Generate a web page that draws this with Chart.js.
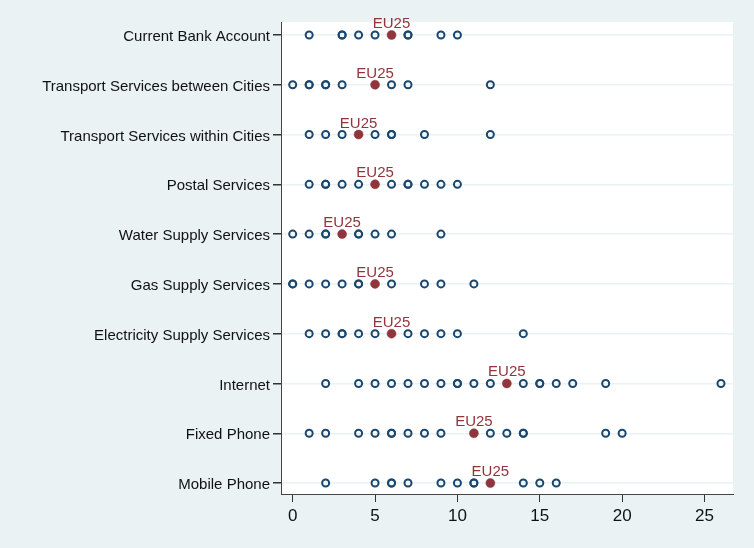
<!DOCTYPE html>
<html>
<head>
<meta charset="utf-8">
<script src="https://cdn.jsdelivr.net/npm/chart.js@4.4.0/dist/chart.umd.min.js"></script>
<style>
  body { margin: 0; background: #eaf2f3; }
  canvas { display: block; }
</style>
</head>
<body>
<canvas id="dotChart" width="754" height="548"></canvas>
<script>
// categories from top to bottom
const categories = [
    'Current Bank Account',
    'Transport Services between Cities',
    'Transport Services within Cities',
    'Postal Services',
    'Water Supply Services',
    'Gas Supply Services',
    'Electricity Supply Services',
    'Internet',
    'Fixed Phone',
    'Mobile Phone'
];

// country values per category (repeated values = overlapping countries)
const bankAccount = [1, 3, 3, 4, 5, 7, 7, 9, 10];
const transportBetween = [0, 1, 1, 2, 2, 3, 6, 7, 12];
const transportWithin = [1, 2, 3, 5, 6, 6, 8, 12];
const postal = [1, 2, 2, 3, 4, 6, 7, 7, 8, 9, 10];
const waterSupply = [0, 1, 2, 2, 4, 4, 5, 6, 9];
const gasSupply = [0, 0, 1, 2, 3, 4, 4, 6, 8, 9, 11];
const electricitySupply = [1, 2, 3, 3, 4, 5, 7, 8, 9, 10, 14];
const internet = [2, 4, 5, 6, 7, 8, 9, 10, 10, 11, 12, 14, 15, 15, 16, 17, 19, 26];
const fixedPhone = [1, 2, 4, 5, 6, 6, 7, 8, 9, 12, 13, 14, 14, 19, 20];
const mobilePhone = [2, 5, 6, 6, 7, 9, 10, 11, 11, 14, 15, 16];

const countryValues = [bankAccount, transportBetween, transportWithin, postal, waterSupply,
    gasSupply, electricitySupply, internet, fixedPhone, mobilePhone];

// EU25 average per category
const eu25 = [6, 5, 4, 5, 3, 5, 6, 13, 11, 12];

const xTicks = [0, 5, 10, 15, 20, 25];

const NAVY = '#1a476f';
const MAROON = '#90353b';
const FONT = '"Liberation Sans", Arial, sans-serif';

const countryPoints = [];
countryValues.forEach((vals, i) => {
    vals.forEach(v => countryPoints.push({ x: v, y: i }));
});
const euPoints = eu25.map((v, i) => ({ x: v, y: i }));

// white plot region
const plotBackground = {
    id: 'plotBackground',
    beforeDraw(chart) {
        const { ctx, chartArea } = chart;
        ctx.save();
        ctx.fillStyle = '#ffffff';
        ctx.fillRect(chartArea.left, chartArea.top,
            chartArea.right - chartArea.left, chartArea.bottom - chartArea.top);
        ctx.restore();
    }
};

// "EU25" text over each red marker
const euLabels = {
    id: 'euLabels',
    afterDatasetsDraw(chart) {
        const { ctx, scales } = chart;
        ctx.save();
        ctx.fillStyle = MAROON;
        ctx.font = '15px ' + FONT;
        ctx.textAlign = 'center';
        ctx.textBaseline = 'alphabetic';
        euPoints.forEach(p => {
            ctx.fillText('EU25', scales.x.getPixelForValue(p.x), scales.y.getPixelForValue(p.y) - 7);
        });
        ctx.restore();
    }
};

new Chart(document.getElementById('dotChart'), {
    type: 'scatter',
    data: {
        datasets: [
            {
                label: 'Countries',
                data: countryPoints,
                pointStyle: 'circle',
                pointRadius: 3.5,
                pointBorderWidth: 2,
                pointBorderColor: NAVY,
                pointBackgroundColor: 'rgba(255,255,255,0)',
                pointHoverRadius: 3.5
            },
            {
                label: 'EU25',
                data: euPoints,
                pointStyle: 'circle',
                pointRadius: 4.5,
                pointBorderWidth: 0.5,
                pointBorderColor: MAROON,
                pointBackgroundColor: MAROON,
                pointHoverRadius: 4.5
            }
        ]
    },
    options: {
        responsive: false,
        animation: false,
        layout: { padding: { top: 22, right: 21, left: 0, bottom: 0 } },
        plugins: {
            legend: { display: false },
            tooltip: { enabled: false }
        },
        scales: {
            x: {
                type: 'linear',
                min: -0.71,
                max: 26.73,
                afterFit: scale => { scale.height = 54; },
                afterBuildTicks: scale => { scale.ticks = xTicks.map(v => ({ value: v })); },
                grid: {
                    drawOnChartArea: false,
                    tickLength: 8,
                    tickColor: '#333',
                    lineWidth: 1
                },
                border: { display: true, color: '#444', width: 1 },
                ticks: {
                    color: '#111',
                    padding: 4,
                    font: { family: FONT, size: 17 }
                }
            },
            y: {
                type: 'linear',
                reverse: true,
                min: -0.26,
                max: 9.22,
                afterFit: scale => { scale.width = 281; },
                afterBuildTicks: scale => { scale.ticks = categories.map((c, i) => ({ value: i })); },
                grid: {
                    color: '#eaf2f3',
                    lineWidth: 1.5,
                    tickLength: 8,
                    tickColor: '#333'
                },
                border: { display: true, color: '#444', width: 1 },
                ticks: {
                    color: '#111',
                    padding: 3,
                    // small line height + empty first line nudges the label 2px down
                    font: { family: FONT, size: 15, lineHeight: '4px' },
                    callback: v => ['', categories[v]]
                }
            }
        }
    },
    plugins: [plotBackground, euLabels]
});
</script>
</body>
</html>
